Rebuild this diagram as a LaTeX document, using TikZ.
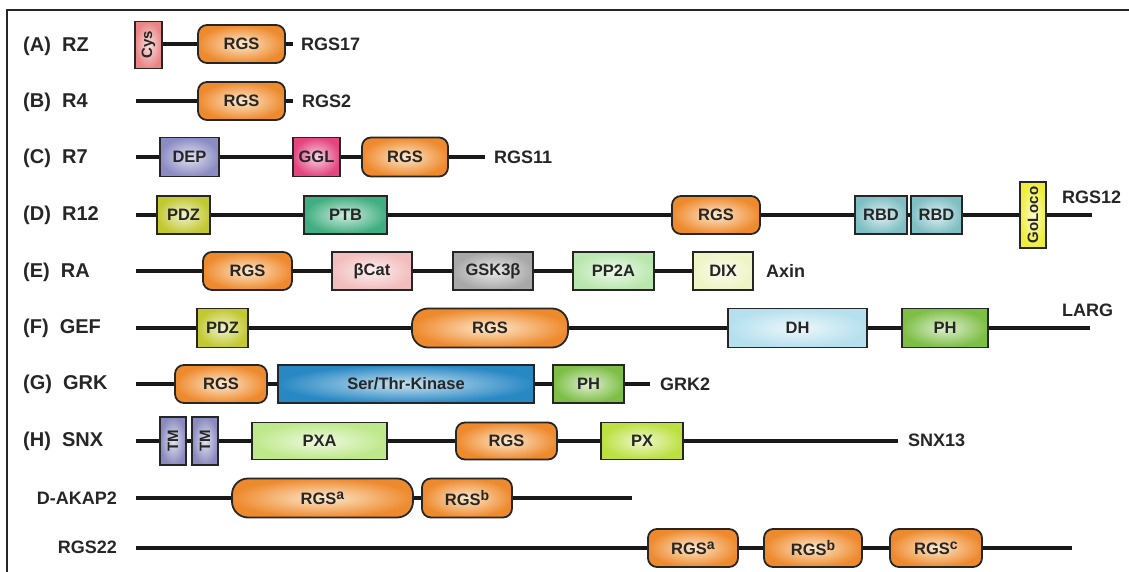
\documentclass[tikz,border=0pt]{standalone}
\usepackage{fontspec}
\setmainfont{Liberation Sans}
\definecolor{rgsO}{HTML}{EE8A2E}
\definecolor{rgsL}{HTML}{FDE8CC}
\definecolor{cysC}{HTML}{E98585}
\definecolor{depC}{HTML}{8C8CC4}
\definecolor{gglC}{HTML}{E4457F}
\definecolor{pdzC}{HTML}{C2C830}
\definecolor{ptbC}{HTML}{3FAE80}
\definecolor{rbdC}{HTML}{7FBFC4}
\definecolor{golC}{HTML}{EEEE3A}
\definecolor{bcatC}{HTML}{F2BDBD}
\definecolor{gskC}{HTML}{A8A8A8}
\definecolor{pp2aC}{HTML}{B9E6AE}
\definecolor{dixC}{HTML}{EEF4C4}
\definecolor{dhC}{HTML}{B6E0EE}
\definecolor{phC}{HTML}{7DBE45}
\definecolor{kinC}{HTML}{2888C4}
\definecolor{pxaC}{HTML}{BEE88A}
\definecolor{pxC}{HTML}{BCE040}
\definecolor{tmC}{HTML}{8A8AC0}
\newcommand{\dfont}{\fontsize{16.5}{18}\selectfont\bfseries}
\newcommand{\vfont}{\fontsize{15}{17}\selectfont\bfseries}
\newcommand{\nfont}{\fontsize{18}{20}\selectfont\bfseries}
\newcommand{\lfont}{\fontsize{20}{22}\selectfont\bfseries}
\newcommand{\rsup}[1]{\raisebox{0.6ex}{\fontsize{14}{15}\selectfont #1}}
\begin{document}
\begin{tikzpicture}[x=1pt,y=-1pt,
  dom/.style={draw=black!85, line width=1.8pt, inner sep=0pt, font=\dfont, text=black!85},
  box/.style={dom, outer color=#1, inner color=#1!25!white},
  rgs/.style={dom, rounded corners=9pt, outer color=rgsO, inner color=rgsL},
  rgsbig/.style={rgs, rounded corners=16pt},
  bb/.style={line width=3.2pt, black!90},
  rowlab/.style={anchor=west, font=\lfont, text=black!85, inner sep=0pt},
  rowlabr/.style={anchor=east, font=\nfont, text=black!85, inner sep=0pt},
  pname/.style={anchor=west, font=\nfont, text=black!85, inner sep=0pt},
  frame/.style={line width=2.4pt, black!85}]
\useasboundingbox (0,0) rectangle (1129,572);
% frame
\coordinate (fl) at (7,572);
\coordinate (fc) at (7,10);
\coordinate (fr) at (1129,10);
\draw[frame] (fl) -- (fc) -- (fr);

% Row A
\node[rowlab] (labA) at (23,46) {(A)\ \ RZ};
\node[box=cysC, minimum width=27pt, minimum height=47pt] (cys) at (148.5,45) {\vfont\rotatebox{90}{Cys}};
\node[rgs, minimum width=87pt, minimum height=38pt] (rgsA) at (241.5,44) {RGS};
\coordinate (endA) at (293,44);
\node[pname] (nA) at (301,44) {RGS17};
\draw[bb] (cys.east |- rgsA.west) -- (rgsA.west) (rgsA.east) -- (endA);

% Row B
\node[rowlab] (labB) at (23,102) {(B)\ \ R4};
\coordinate (startB) at (136,101);
\node[rgs, minimum width=87pt, minimum height=38pt] (rgsB) at (241.5,101) {RGS};
\coordinate (endB) at (293,101);
\node[pname] (nB) at (302,101) {RGS2};
\draw[bb] (startB) -- (rgsB.west) (rgsB.east) -- (endB);

% Row C
\node[rowlab] (labC) at (23,158) {(C)\ \ R7};
\coordinate (startC) at (136,157);
\node[box=depC, minimum width=59pt, minimum height=39pt] (dep) at (189.5,157) {DEP};
\node[box=gglC, minimum width=47pt, minimum height=39pt] (ggl) at (316.5,157) {GGL};
\node[rgs, minimum width=86pt, minimum height=39pt] (rgsC) at (405,157) {RGS};
\coordinate (endC) at (485,157);
\node[pname] (nC) at (494,157) {RGS11};
\draw[bb] (startC) -- (dep.west) (dep.east) -- (ggl.west) (ggl.east) -- (rgsC.west) (rgsC.east) -- (endC);

% Row D
\node[rowlab] (labD) at (23,215) {(D)\ \ R12};
\coordinate (startD) at (136,215);
\node[box=pdzC, minimum width=53pt, minimum height=38pt] (pdzD) at (183.5,215) {PDZ};
\node[box=ptbC, minimum width=83pt, minimum height=38pt] (ptb) at (345.5,215) {PTB};
\node[rgs, minimum width=88pt, minimum height=38pt] (rgsD) at (716,215) {RGS};
\node[box=rbdC, minimum width=52pt, minimum height=38pt] (rbd1) at (881,215) {RBD};
\node[box=rbdC, minimum width=51pt, minimum height=38pt] (rbd2) at (936.5,215) {RBD};
\node[box=golC, minimum width=26pt, minimum height=66pt] (gol) at (1033,215) {\vfont\rotatebox{90}{GoLoco}};
\coordinate (endD) at (1092,215);
\node[pname] (nD) at (1062,197) {RGS12};
\draw[bb] (startD) -- (pdzD.west) (pdzD.east) -- (ptb.west) (ptb.east) -- (rgsD.west) (rgsD.east) -- (rbd1.west)
  (rbd1.east) -- (rbd2.west) (rbd2.east) -- (gol.west) (gol.east) -- (endD);

% Row E
\node[rowlab] (labE) at (23,272) {(E)\ \ RA};
\coordinate (startE) at (136,271);
\node[rgs, minimum width=89pt, minimum height=38pt] (rgsE) at (247.5,271) {RGS};
\node[box=bcatC, minimum width=80pt, minimum height=38pt] (bcat) at (372,271) {βCat};
\node[box=gskC, minimum width=80pt, minimum height=38pt] (gsk) at (493,271) {GSK3β};
\node[box=pp2aC, minimum width=81pt, minimum height=38pt] (pp2a) at (613.5,271) {PP2A};
\node[box=dixC, minimum width=60pt, minimum height=38pt] (dix) at (723,271) {DIX};
\node[pname] (nE) at (766,271) {Axin};
\draw[bb] (startE) -- (rgsE.west) (rgsE.east) -- (bcat.west) (bcat.east) -- (gsk.west) (gsk.east) -- (pp2a.west) (pp2a.east) -- (dix.west);

% Row F
\node[rowlab] (labF) at (23,328) {(F)\ \ GEF};
\coordinate (startF) at (136,328);
\node[box=pdzC, minimum width=51pt, minimum height=39pt] (pdzF) at (222.5,328) {PDZ};
\node[rgsbig, minimum width=156pt, minimum height=39pt] (rgsF) at (490,328) {RGS};
\node[box=dhC, minimum width=139pt, minimum height=39pt] (dh) at (797.5,328) {DH};
\node[box=phC, minimum width=86pt, minimum height=39pt] (phF) at (945,328) {PH};
\coordinate (endF) at (1090,328);
\node[pname] (nF) at (1062,310) {LARG};
\draw[bb] (startF) -- (pdzF.west) (pdzF.east) -- (rgsF.west) (rgsF.east) -- (dh.west) (dh.east) -- (phF.west) (phF.east) -- (endF);

% Row G
\node[rowlab] (labG) at (23,384) {(G)\ \ GRK};
\coordinate (startG) at (136,384);
\node[rgs, minimum width=92pt, minimum height=38pt] (rgsG) at (221,384) {RGS};
\node[box=kinC, minimum width=256pt, minimum height=38pt] (kin) at (406,384) {Ser/Thr-Kinase};
\node[box=phC, minimum width=71pt, minimum height=38pt] (phG) at (588.5,384) {PH};
\coordinate (endG) at (650,384);
\node[pname] (nG) at (660,384) {GRK2};
\draw[bb] (startG) -- (rgsG.west) (rgsG.east) -- (kin.west) (kin.east) -- (phG.west) (phG.east) -- (endG);

% Row H
\node[rowlab] (labH) at (23,441) {(H)\ \ SNX};
\coordinate (startH) at (136,441);
\node[box=tmC, minimum width=26pt, minimum height=48pt] (tm1) at (173,441) {\vfont\rotatebox{90}{TM}};
\node[box=tmC, minimum width=26pt, minimum height=48pt] (tm2) at (205,441) {\vfont\rotatebox{90}{TM}};
\node[box=pxaC, minimum width=135pt, minimum height=37pt] (pxa) at (319.5,441) {PXA};
\node[rgs, minimum width=101pt, minimum height=37pt] (rgsH) at (506.5,441) {RGS};
\node[box=pxC, minimum width=82pt, minimum height=37pt] (px) at (642,441) {PX};
\coordinate (endH) at (898,441);
\node[pname] (nH) at (908,440) {SNX13};
\draw[bb] (startH) -- (tm1.west) (tm1.east) -- (tm2.west) (tm2.east) -- (pxa.west) (pxa.east) -- (rgsH.west) (rgsH.east) -- (px.west) (px.east) -- (endH);

% D-AKAP2
\node[rowlabr] (labI) at (117,498) {D-AKAP2};
\coordinate (startI) at (136,498);
\node[rgsbig, minimum width=181pt, minimum height=39pt] (rgsIa) at (322.5,498) {RGS\rsup{a}};
\node[rgs, minimum width=90pt, minimum height=39pt] (rgsIb) at (467,498) {RGS\rsup{b}};
\coordinate (endI) at (632,498);
\draw[bb] (startI) -- (rgsIa.west) (rgsIa.east) -- (rgsIb.west) (rgsIb.east) -- (endI);

% RGS22
\node[rowlabr] (labJ) at (117,547) {RGS22};
\coordinate (startJ) at (136,548);
\node[rgs, minimum width=90pt, minimum height=38pt] (rgsJa) at (693,548) {RGS\rsup{a}};
\node[rgs, minimum width=98pt, minimum height=38pt] (rgsJb) at (813,548) {RGS\rsup{b}};
\node[rgs, minimum width=92pt, minimum height=38pt] (rgsJc) at (936,548) {RGS\rsup{c}};
\coordinate (endJ) at (1072,548);
\draw[bb] (startJ) -- (rgsJa.west) (rgsJa.east) -- (rgsJb.west) (rgsJb.east) -- (rgsJc.west) (rgsJc.east) -- (endJ);
\end{tikzpicture}
\end{document}
